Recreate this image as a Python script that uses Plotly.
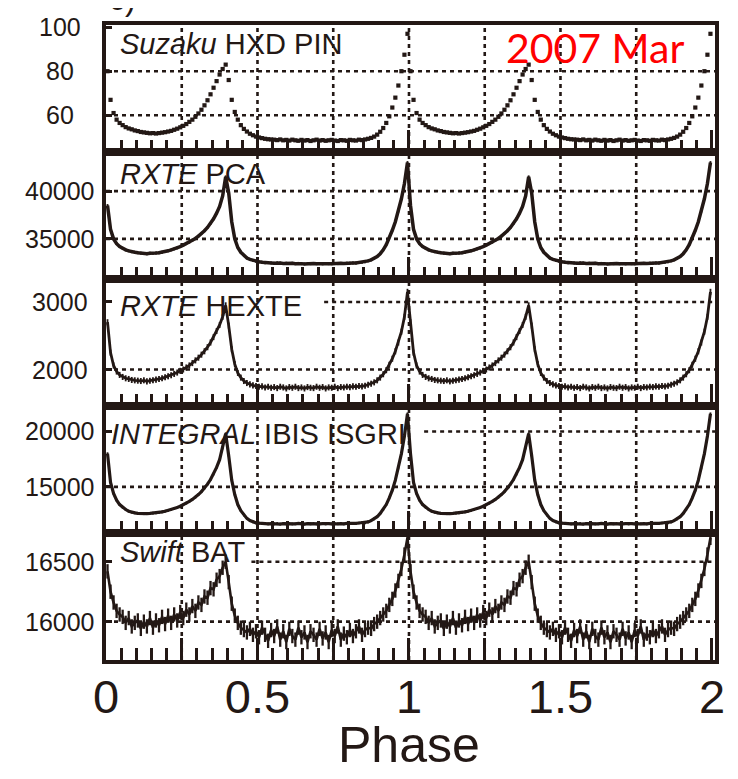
import plotly.graph_objects as go
from plotly.subplots import make_subplots

# ---------------- data (one pulse cycle, 100 phase bins; plotted twice) ----------------
PHASE = [0.005, 0.015, 0.025, 0.035, 0.045, 0.055, 0.065, 0.075, 0.085, 0.095,
         0.105, 0.115, 0.125, 0.135, 0.145, 0.155, 0.165, 0.175, 0.185, 0.195,
         0.205, 0.215, 0.225, 0.235, 0.245, 0.255, 0.265, 0.275, 0.285, 0.295,
         0.305, 0.315, 0.325, 0.335, 0.345, 0.355, 0.365, 0.375, 0.385, 0.395,
         0.405, 0.415, 0.425, 0.435, 0.445, 0.455, 0.465, 0.475, 0.485, 0.495,
         0.505, 0.515, 0.525, 0.535, 0.545, 0.555, 0.565, 0.575, 0.585, 0.595,
         0.605, 0.615, 0.625, 0.635, 0.645, 0.655, 0.665, 0.675, 0.685, 0.695,
         0.705, 0.715, 0.725, 0.735, 0.745, 0.755, 0.765, 0.775, 0.785, 0.795,
         0.805, 0.815, 0.825, 0.835, 0.845, 0.855, 0.865, 0.875, 0.885, 0.895,
         0.905, 0.915, 0.925, 0.935, 0.945, 0.955, 0.965, 0.975, 0.985, 0.995]

SUZAKU_PIN = [80.0, 67.0, 61.0, 58.0, 56.5, 55.5, 54.6, 54.0, 53.6, 53.1,
              52.8, 52.4, 52.2, 52.0, 51.8, 51.9, 51.7, 51.9, 52.1, 52.3,
              52.6, 52.9, 53.4, 53.9, 54.5, 55.2, 56.0, 57.0, 58.0, 59.3,
              60.8, 62.5, 64.5, 66.8, 69.5, 72.5, 75.5, 78.5, 81.0, 83.0,
              76.0, 67.0, 61.5, 58.0, 55.5, 53.8, 52.6, 51.6, 50.9, 50.3,
              49.9, 49.6, 49.3, 49.1, 49.0, 48.9, 48.7, 49.0, 48.6, 48.8,
              48.5, 48.9, 48.6, 48.4, 48.8, 48.5, 48.7, 48.3, 48.6, 48.9,
              48.5, 48.7, 48.4, 48.6, 48.8, 48.5, 48.3, 48.7, 48.6, 48.4,
              48.8, 48.6, 48.5, 48.9, 48.7, 49.0, 49.3, 49.7, 50.3, 51.2,
              52.5, 54.2, 56.5, 59.5, 63.5, 68.0, 73.5, 80.0, 87.5, 97.0]

RXTE_PCA = [38500, 36000, 35000, 34500, 34200, 34000, 33850, 33750, 33650, 33600,
            33550, 33500, 33480, 33450, 33500, 33480, 33520, 33550, 33600, 33680,
            33750, 33850, 33950, 34050, 34200, 34350, 34500, 34650, 34850, 35050,
            35300, 35550, 35850, 36200, 36600, 37100, 37700, 38400, 39500, 41500,
            39800, 36800, 35000, 34100, 33600, 33250, 33000, 32850, 32750, 32650,
            32600, 32550, 32500, 32520, 32480, 32450, 32500, 32470, 32430, 32460,
            32420, 32450, 32400, 32440, 32410, 32380, 32420, 32400, 32430, 32390,
            32410, 32380, 32420, 32400, 32390, 32430, 32410, 32440, 32420, 32460,
            32450, 32480, 32470, 32510, 32540, 32600, 32700, 32800, 32950, 33150,
            33450, 33850, 34400, 35100, 35900, 36800, 37900, 39200, 40800, 43000]

RXTE_HEXTE = [2700, 2250, 2060, 1970, 1920, 1890, 1870, 1860, 1845, 1840,
              1835, 1830, 1840, 1825, 1835, 1840, 1850, 1860, 1870, 1885,
              1900, 1915, 1935, 1955, 1980, 2000, 2030, 2060, 2095, 2135,
              2175, 2220, 2270, 2330, 2400, 2480, 2570, 2660, 2780, 2950,
              2650, 2300, 2080, 1950, 1880, 1830, 1800, 1780, 1765, 1755,
              1745, 1750, 1735, 1745, 1730, 1740, 1725, 1745, 1735, 1720,
              1740, 1730, 1745, 1725, 1735, 1720, 1740, 1730, 1725, 1745,
              1730, 1740, 1720, 1735, 1730, 1745, 1725, 1740, 1735, 1745,
              1740, 1750, 1745, 1755, 1750, 1760, 1775, 1790, 1810, 1840,
              1880, 1930, 1990, 2070, 2160, 2270, 2400, 2560, 2780, 3150]

INTEGRAL_ISGRI = [18000, 15400, 14400, 13800, 13400, 13150, 12950, 12800, 12700, 12650,
                  12600, 12580, 12570, 12580, 12600, 12620, 12650, 12690, 12740, 12800,
                  12870, 12950, 13040, 13140, 13250, 13380, 13520, 13680, 13860, 14060,
                  14300, 14570, 14880, 15240, 15660, 16150, 16750, 17450, 18500, 19800,
                  17800, 15600, 14300, 13400, 12850, 12450, 12150, 11950, 11830, 11750,
                  11720, 11690, 11700, 11660, 11680, 11650, 11690, 11640, 11670, 11650,
                  11680, 11640, 11660, 11700, 11650, 11630, 11670, 11650, 11690, 11640,
                  11660, 11680, 11640, 11670, 11650, 11690, 11660, 11680, 11650, 11700,
                  11680, 11710, 11700, 11730, 11760, 11750, 11830, 11950, 12100, 12300,
                  12600, 12950, 13400, 14000, 14700, 15600, 16700, 18000, 19600, 21600]

SWIFT_BAT = [16420, 16250, 16160, 16090, 16060, 16040, 15990, 16030, 15960, 15990,
             16010, 15940, 16000, 15960, 16030, 15950, 16010, 15970, 16040, 15980,
             16050, 15990, 16060, 16010, 16080, 16030, 16100, 16060, 16130, 16090,
             16160, 16140, 16210, 16200, 16280, 16270, 16350, 16380, 16450, 16500,
             16330, 16150, 16050, 15990, 15950, 15930, 15910, 15940, 15890, 15920,
             15870, 15950, 15890, 15840, 15930, 15880, 15960, 15850, 15920, 15830,
             15940, 15880, 15850, 15950, 15870, 15910, 15830, 15920, 15890, 15850,
             15940, 15860, 15910, 15830, 15930, 15880, 15960, 15850, 15900, 15870,
             15930, 15880, 15920, 15960, 15890, 15930, 15950, 15940, 15980, 16000,
             16030, 16060, 16090, 16140, 16190, 16260, 16340, 16440, 16560, 16700]

ERRORS = [0.7, 150, 45, 120, 60]

PANEL_NAMES = ["<i>Suzaku</i> HXD PIN", "<i>RXTE</i> PCA", "<i>RXTE</i> HEXTE",
               "<i>INTEGRAL</i> IBIS ISGRI", "<i>Swift</i> BAT"]
Y_RANGES = [[43.3, 101], [30800, 44100], [1460, 3340], [10830, 22300], [15680, 16740]]
Y_TICKS = [[60, 80, 100], [35000, 40000], [2000, 3000], [15000, 20000], [16000, 16500]]
# where the horizontal dotted grid lines start (the panel labels sit on them)
GRID_START = [{60: 0, 80: 0}, {35000: 0, 40000: 0}, {2000: 0, 3000: 0.72},
              {15000: 0, 20000: 1.05}, {16000: 0, 16500: 0.48}]
X_TICKS = [0, 0.25, 0.5, 0.75, 1, 1.25, 1.5, 1.75, 2]
X_TICK_TEXT = ["0", "", "0.5", "", "1", "", "1.5", "", "2"]
V_GRID = [0.25, 0.5, 0.75, 1.0, 1.25, 1.5, 1.75]

SERIES = [SUZAKU_PIN, RXTE_PCA, RXTE_HEXTE, INTEGRAL_ISGRI, SWIFT_BAT]

INK = "#231815"
FONT = "Liberation Sans, Arial, sans-serif"
# the page body adds an 8px offset, so the figure is drawn 8px smaller
OFF = 8
W, H = 738 - OFF, 779 - OFF
L, R, T, B = 106 - OFF, 23, 25 - OFF, 119
PW, PH = W - L - R, H - T - B
PLOT_BOTTOM = 660  # page pixel of the lowest frame edge
PLOT_LEFT = 106
PLOT_TOP = 25

fig = make_subplots(rows=5, cols=1, shared_xaxes=True, vertical_spacing=0)

x2 = PHASE + [p + 1 for p in PHASE]
for i, ser in enumerate(SERIES):
    r = i + 1
    y2 = ser + ser
    err = dict(type="constant", value=ERRORS[i], color=INK,
               thickness=[1.8, 1.8, 1.8, 1.8, 2.3][i], width=0)
    if i == 0:
        tr = go.Scatter(x=x2, y=y2, mode="markers",
                        marker=dict(size=4.2, symbol="square", color=INK),
                        error_y=err, showlegend=False)
    else:
        lw = [0, 3.5, 2.8, 3.2, 2.6][i]
        tr = go.Scatter(x=x2, y=y2, mode="lines", line=dict(color=INK, width=lw),
                        error_y=err, showlegend=False)
    fig.add_trace(tr, row=r, col=1)

    sfx = "" if r == 1 else str(r)
    xr, yr = "x" + sfx, "y" + sfx
    for gx in V_GRID:
        fig.add_shape(type="line", xref=xr, yref=yr + " domain", x0=gx, x1=gx, y0=0, y1=1,
                      line=dict(color=INK, width=2.6, dash="4px,4px"), layer="below")
    for gv, start in GRID_START[i].items():
        fig.add_shape(type="line", xref=xr, yref=yr, x0=start, x1=2.01, y0=gv, y1=gv,
                      line=dict(color=INK, width=2.6, dash="4px,4px"), layer="below")
    for tv in Y_TICKS[i]:
        fig.add_annotation(x=(60 - PLOT_LEFT) / PW, xref="paper", y=tv, yref=yr, text=str(tv),
                           showarrow=False, xanchor="center", yanchor="middle",
                           font=dict(family=FONT, size=25, color=INK))
    fig.update_yaxes(row=r, col=1, range=Y_RANGES[i], showticklabels=False,
                     tickvals=Y_TICKS[i], ticks="inside", ticklen=6, tickwidth=2.5,
                     tickcolor=INK, showgrid=False, zeroline=False,
                     showline=True, mirror=True, linecolor=INK, linewidth=3.5)
    fig.update_xaxes(row=r, col=1, range=[0, 2.01], tickvals=X_TICKS, ticktext=X_TICK_TEXT,
                     ticks="inside", ticklen=22, tickwidth=3, tickcolor=INK,
                     minor=dict(dtick=0.05, tick0=0, ticks="inside", ticklen=12,
                                tickwidth=3, tickcolor=INK, showgrid=False),
                     showgrid=False, zeroline=False, showline=True, mirror=True,
                     linecolor=INK, linewidth=3.5, showticklabels=(r == 5),
                     tickfont=dict(family=FONT, size=47, color=INK),
                     ticklabelstandoff=-7)

# panel labels
label_y = [0.85, 0.827, 0.787, 0.78, 0.85]
label_x = [118, 118, 118, 109, 118]
for i, name in enumerate(PANEL_NAMES):
    sfx = "" if i == 0 else str(i + 1)
    fig.add_annotation(x=(label_x[i] - PLOT_LEFT) / PW, xref="paper", y=label_y[i],
                       yref="y" + sfx + " domain", text=name, showarrow=False,
                       xanchor="left", yanchor="middle",
                       font=dict(family=FONT, size=29, color=INK))

# date
fig.add_annotation(x=(595 - PLOT_LEFT) / PW, xref="paper", y=1 - (47 - PLOT_TOP) / PH,
                   yref="paper", text="2007 Mar", showarrow=False,
                   xanchor="center", yanchor="middle",
                   font=dict(family="Lato, sans-serif", size=41, color="#FF0000"))
# x title
fig.add_annotation(x=(409 - PLOT_LEFT) / PW, xref="paper", y=-(745 - PLOT_BOTTOM) / PH,
                   yref="paper", text="Phase", showarrow=False,
                   xanchor="center", yanchor="middle",
                   font=dict(family=FONT, size=50, color=INK))
# clipped panel letter at the very top
fig.add_annotation(x=(107 - PLOT_LEFT) / PW, xref="paper", y=1 + (PLOT_TOP + 1) / PH,
                   yref="paper", text="c)", showarrow=False, xanchor="left",
                   yanchor="middle", font=dict(family=FONT, size=32, color=INK))
# pink mark in the corner
fig.add_shape(type="rect", xref="paper", yref="paper",
              x0=-PLOT_LEFT / PW, x1=(21 - PLOT_LEFT) / PW,
              y0=1 + (PLOT_TOP - 6) / PH, y1=1 + PLOT_TOP / PH,
              fillcolor="#F7C9F7", line=dict(width=0))

fig.update_layout(width=W, height=H, margin=dict(l=L, r=R, t=T, b=B),
                  paper_bgcolor="white", plot_bgcolor="white", showlegend=False)

fig.write_html("out.html")
